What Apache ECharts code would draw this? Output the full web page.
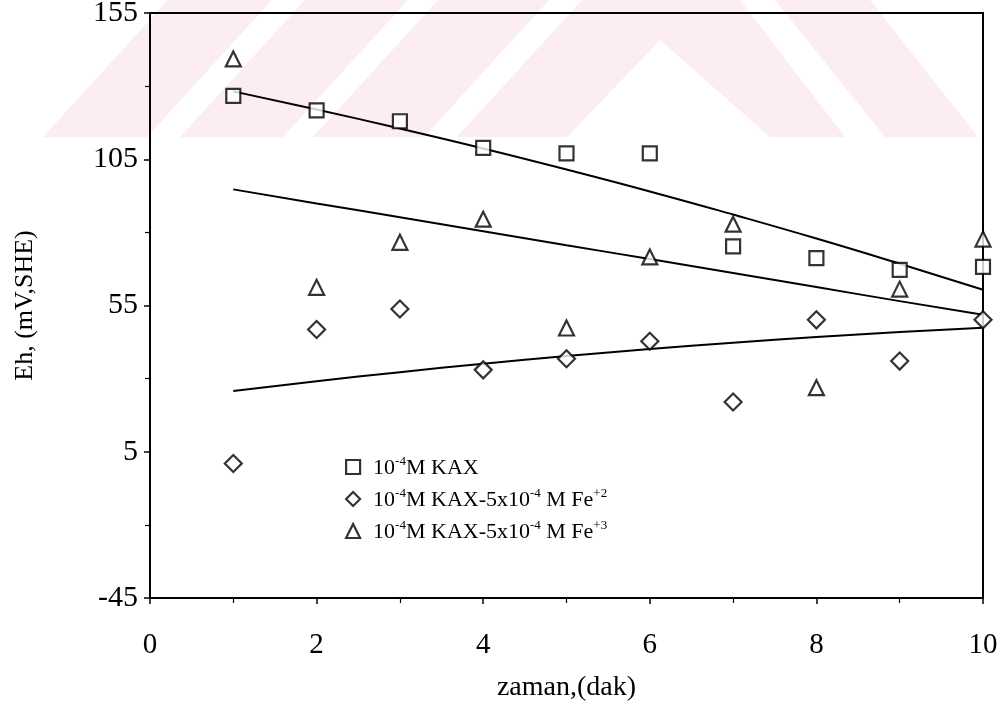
<!DOCTYPE html>
<html>
<head>
<meta charset="utf-8">
<script src="https://cdn.jsdelivr.net/npm/echarts@6/dist/echarts.min.js"></script>
<style>
  html, body { margin: 0; padding: 0; background: #fff; }
  #chart { width: 1002px; height: 708px; }
</style>
</head>
<body>
<div id="chart"></div>
<script>
// ---- data ----
const xValues = [1, 2, 3, 4, 5, 6, 7, 8, 9, 10];
const kax = [126.7, 121.7, 118.0, 108.9, 107.0, 107.0, 75.2, 71.2, 67.2, 68.2];
const fe2 = [1.0, 46.8, 53.8, 33.0, 36.8, 42.8, 22.0, 50.1, 36.0, 50.1];
const fe3 = [139.3, 61.2, 76.6, 84.5, 47.3, 71.6, 82.8, 26.9, 60.6, 77.7];
// trend lines as drawn in the reference (read at each x)
const trendKax = [128.2, 122.0, 115.5, 108.7, 101.5, 94.0, 86.1, 77.9, 69.3, 60.4];
const trendFe3 = [94.7, 89.9, 85.2, 80.4, 75.6, 70.9, 66.1, 61.3, 56.5, 51.8];
const trendFe2 = [25.8, 29.1, 32.2, 35.1, 37.7, 40.1, 42.3, 44.2, 45.9, 47.4];
const seriesNames = ['10-4M KAX', '10-4M KAX-5x10-4 M Fe+2', '10-4M KAX-5x10-4 M Fe+3'];
const legendRich = {
  '10-4M KAX': '{n|10}{s|-4}{n|M KAX}',
  '10-4M KAX-5x10-4 M Fe+2': '{n|10}{s|-4}{n|M KAX-5x10}{s|-4}{n| M Fe}{s|+2}',
  '10-4M KAX-5x10-4 M Fe+3': '{n|10}{s|-4}{n|M KAX-5x10}{s|-4}{n| M Fe}{s|+3}'
};
const xTitle = 'zaman,(dak)';
const yTitle = 'Eh, (mV,SHE)';

const pair = (ys) => xValues.map((x, i) => [x, ys[i]]);
const FONT = 'Liberation Serif';
const pink = '#fcedf0';

// faint background watermark (decoration)
const wm = [
  [[43,137],[168,0],[272,0],[147,137]],
  [[180,137],[305,0],[408,0],[283,137]],
  [[313,137],[438,0],[549,0],[424,137]],
  [[457,137],[582,0],[740,0],[845,137],[770,137],[660,40],[567,137]],
  [[775,0],[870,0],[978,137],[885,137]]
];

const markerStyle = { color: '#fff', borderColor: '#000', borderWidth: 2.2 };

const chart = echarts.init(document.getElementById('chart'), null, { renderer: 'canvas' });
chart.setOption({
  backgroundColor: '#fff',
  animation: false,
  graphic: wm.map(pts => ({
    type: 'polygon', silent: true, z: -10,
    shape: { points: pts }, style: { fill: pink }
  })),
  grid: { left: 150, right: 19, top: 13, bottom: 110, show: true, borderColor: '#000', borderWidth: 2, backgroundColor: 'transparent', containLabel: false, outerBoundsMode: 'none' },
  xAxis: {
    type: 'value', min: 0, max: 10, interval: 2,
    name: xTitle, nameLocation: 'middle', nameGap: 76,
    nameTextStyle: { fontFamily: FONT, fontSize: 28, color: '#000' },
    axisLine: { show: true, onZero: false, lineStyle: { color: '#000', width: 2 } },
    axisTick: { show: true, inside: false, length: 6, lineStyle: { color: '#000', width: 1.5 } },
    minorTick: { show: true, splitNumber: 2, length: 5, lineStyle: { color: '#000', width: 1.2 } },
    axisLabel: { fontFamily: FONT, fontSize: 29, color: '#000', margin: 33 },
    splitLine: { show: false }
  },
  yAxis: {
    type: 'value', min: -45, max: 155, interval: 50,
    name: yTitle, nameLocation: 'middle', nameGap: 112, nameRotate: 90,
    nameTextStyle: { fontFamily: FONT, fontSize: 26, color: '#000' },
    axisLine: { show: true, onZero: false, lineStyle: { color: '#000', width: 2 } },
    axisTick: { show: true, inside: false, length: 6, lineStyle: { color: '#000', width: 1.5 } },
    minorTick: { show: true, splitNumber: 2, length: 5, lineStyle: { color: '#000', width: 1.2 } },
    axisLabel: { fontFamily: FONT, fontSize: 30, color: '#000', margin: 12 },
    splitLine: { show: false }
  },
  legend: {
    data: seriesNames,
    orient: 'vertical', left: 340, top: 450,
    itemWidth: 14, itemHeight: 14, itemGap: 8,
    itemStyle: markerStyle,
    formatter: (name) => legendRich[name],
    textStyle: {
      color: '#000', fontFamily: FONT, padding: [0, 0, 0, 8],
      rich: {
        n: { fontFamily: FONT, fontSize: 22, color: '#000', lineHeight: 24, verticalAlign: 'bottom' },
        s: { fontFamily: FONT, fontSize: 13, color: '#000', lineHeight: 24, verticalAlign: 'top' }
      }
    }
  },
  series: [
    { name: 'trend1', type: 'line', data: pair(trendKax), smooth: true, showSymbol: false, silent: true, z: 3,
      lineStyle: { color: '#000', width: 2 } },
    { name: 'trend2', type: 'line', data: pair(trendFe2), smooth: true, showSymbol: false, silent: true, z: 3,
      lineStyle: { color: '#000', width: 2 } },
    { name: 'trend3', type: 'line', data: pair(trendFe3), smooth: true, showSymbol: false, silent: true, z: 3,
      lineStyle: { color: '#000', width: 2 } },
    { name: seriesNames[0], type: 'scatter', symbol: 'rect', symbolSize: 14, data: pair(kax), itemStyle: markerStyle, z: 5 },
    { name: seriesNames[1], type: 'scatter', symbol: 'diamond', symbolSize: 17, data: pair(fe2), itemStyle: markerStyle, z: 5 },
    { name: seriesNames[2], type: 'scatter', symbol: 'triangle', symbolSize: 15, data: pair(fe3), itemStyle: markerStyle, z: 5 }
  ]
});
</script>
</body>
</html>
